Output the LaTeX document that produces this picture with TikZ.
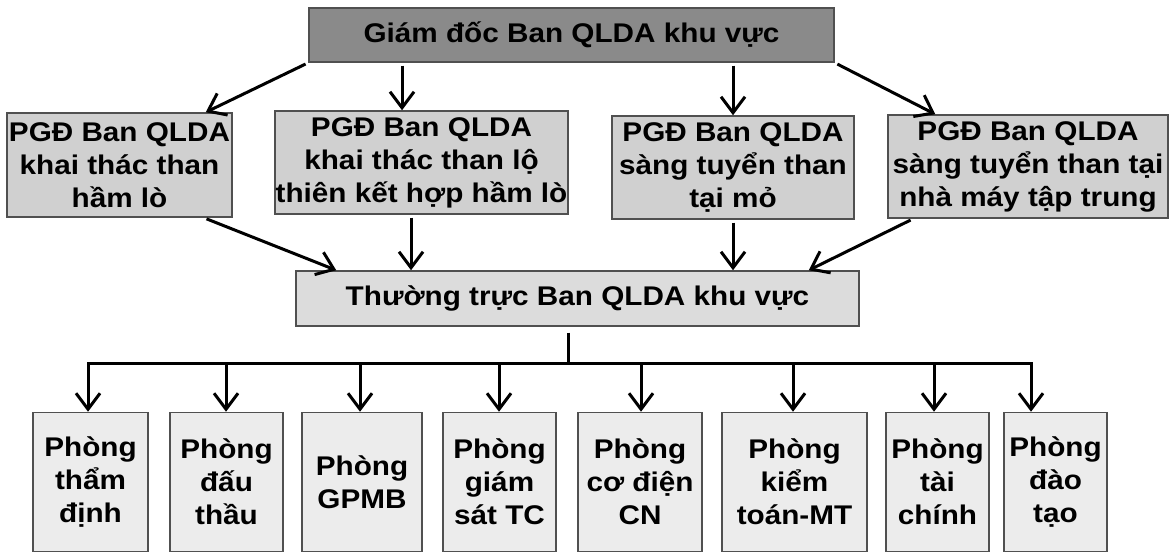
\documentclass[tikz,border=0pt]{standalone}
\usepackage{fontspec}
\setmainfont{Liberation Sans}[FakeStretch=1.1]
\usepackage{color}
\definecolor{mydarkgray}{RGB}{138,138,138}
\definecolor{mymidgray}{RGB}{208,208,208}
\definecolor{mylightgray}{RGB}{220,220,220}
\definecolor{mypalegray}{RGB}{236,236,236}
\definecolor{myedge}{RGB}{80,80,80}
\usetikzlibrary{calc,arrows.meta,positioning}

\begin{document}
\begin{tikzpicture}[
  x=1pt, y=-1pt,
  font=\fontsize{27}{33}\selectfont\bfseries,
  mybox/.style={
    draw=myedge,
    line width=1.5pt,
    fill=#1,
    align=center,
    inner sep=0pt
    },
  myline/.style={line width=3pt},
  myarrow/.style={
    myline,
    shorten <=3pt,
    -{Straight Barb[length=16pt,width=24pt]}
    }
]
\useasboundingbox[fill=white] (0,0) rectangle (1171,553);

% director
\node[mybox=mydarkgray, minimum width=525pt, minimum height=54pt]
  (gd) at (571.5,35) {Giám đốc Ban QLDA khu vực};

% deputy directors
\node[mybox=mymidgray, minimum width=225pt, minimum height=104pt]
  (p1) at (119.5,165) {PGĐ Ban QLDA\\khai thác than\\hầm lò};
\node[mybox=mymidgray, minimum width=293pt, minimum height=103pt]
  (p2) at (421.5,162.5) {PGĐ Ban QLDA\\khai thác than lộ\\thiên kết hợp hầm lò};
\node[mybox=mymidgray, minimum width=242pt, minimum height=103pt]
  (p3) at (733,167.5) {PGĐ Ban QLDA\\sàng tuyển than\\tại mỏ};
\node[mybox=mymidgray, minimum width=280pt, minimum height=103pt]
  (p4) at (1028,166.5) {PGĐ Ban QLDA\\sàng tuyển than tại\\nhà máy tập trung};

% standing board
\node[mybox=mylightgray, minimum width=563pt, minimum height=55pt]
  (tt) at (577.5,298.5) {Thường trực Ban QLDA khu vực};

% departments
\foreach \cx/\w/\txt [count=\i from 1] in {
    90.5/115/{Phòng\\thẩm\\định},
    226.5/113/{Phòng\\đấu\\thầu},
    362/120/{Phòng\\GPMB},
    499.5/113/{Phòng\\giám\\sát TC},
    640/124/{Phòng\\cơ điện\\CN},
    794.5/145/{Phòng\\kiểm\\toán-MT},
    937.5/103/{Phòng\\tài\\chính},
    1055.5/103/{Phòng\\đào\\tạo}}
  \node[mybox=mypalegray, minimum width=\w pt, minimum height=139pt]
    (b\i) at (\cx,482) {\txt};

% director -> deputies
\coordinate (a2) at ([xshift=-19.5pt]p2.north);
\draw[myarrow] (gd.south west) -- ([xshift=-27pt]p1.north east);
\draw[myarrow] (a2 |- gd.south) -- (a2);
\draw[myarrow] (gd.south -| p3.north) -- (p3.north);
\draw[myarrow] (gd.south east) -- ([xshift=48pt]p4.north west);

% deputies -> standing board
\coordinate (a6) at ([xshift=-10.5pt]p2.south);
\draw[myarrow] ([xshift=-29pt]p1.south east) -- ([xshift=41pt]tt.north west);
\draw[myarrow] (a6) -- (a6 |- tt.north);
\draw[myarrow] (p3.south) -- (p3.south |- tt.north);
\draw[myarrow] ([xshift=26pt]p4.south west) -- ([xshift=-51pt]tt.north east);

% standing board -> departments
\coordinate (bus) at ([xshift=-9.5pt,yshift=-37pt]tt.south);
\draw[myline, shorten <=6pt] (tt.south -| bus) -- (bus);
\draw[myline, line cap=rect] ([xshift=-2.5pt]b1.north |- bus) -- ([xshift=-24.5pt]b8.north |- bus);
\foreach \dx [count=\i from 1] in {-2.5,-0.5,-2,-0.5,1,-1.5,-3.5,-24.5}
  \draw[myarrow, shorten <=0pt] ([xshift=\dx pt]b\i.north |- bus) -- ([xshift=\dx pt]b\i.north);

\end{tikzpicture}
\end{document}
